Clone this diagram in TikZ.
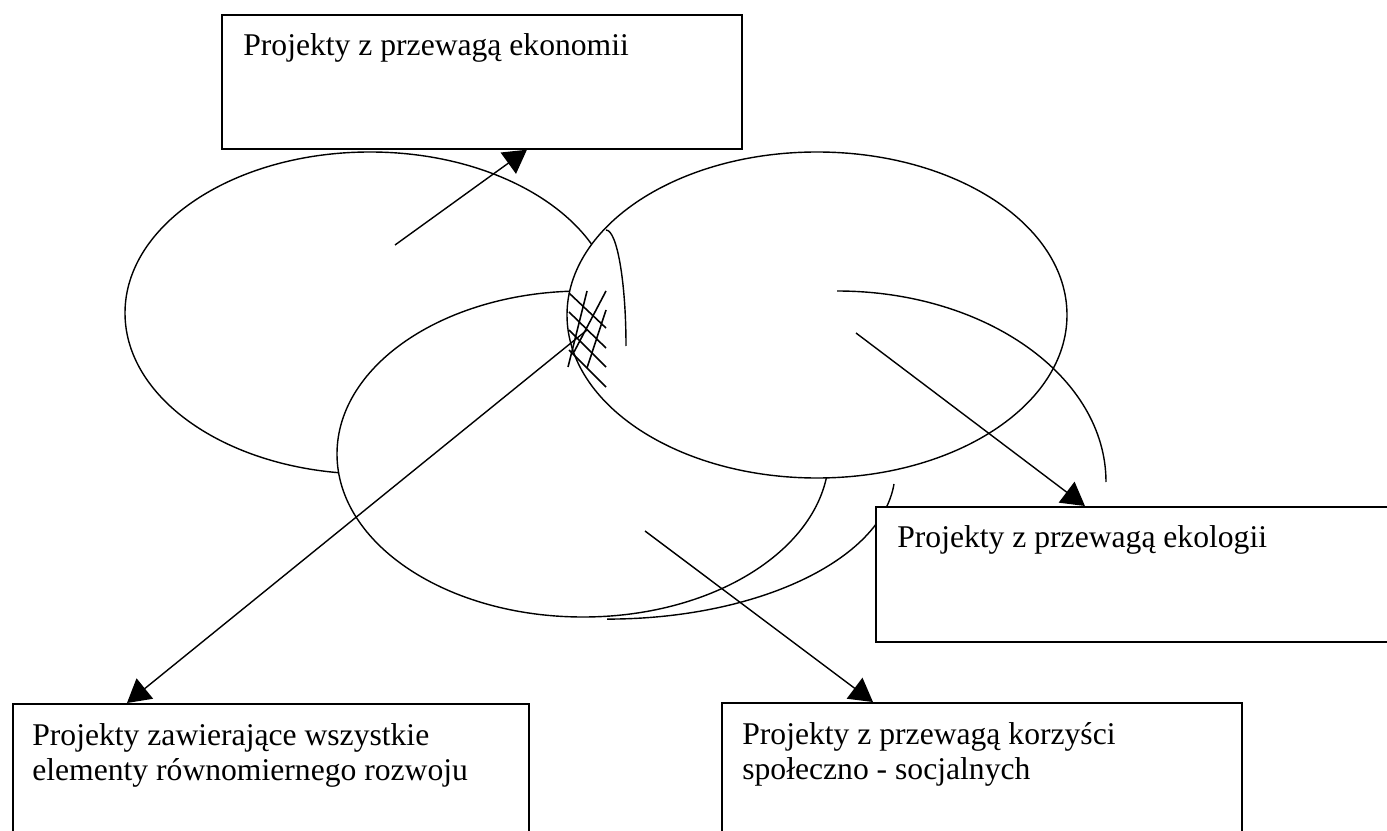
\documentclass[tikz,border=0pt]{standalone}
\usepackage{fontspec}
\setmainfont{Liberation Serif}
\usetikzlibrary{arrows.meta}

\begin{document}
\begin{tikzpicture}[x=0.02cm, y=-0.02cm, font=\fontsize{18}{20}\selectfont]
\tikzstyle{ell}=[draw=black, fill=white, line width=0.8pt]
\tikzstyle{arc1}=[draw=black, line width=0.8pt]
\tikzstyle{hatch}=[draw=black, line width=0.9pt]
\tikzstyle{sq1}=[rectangle, draw=black, fill=white, line width=1pt, anchor=north west, inner sep=0pt]
\tikzstyle{txtonly}=[anchor=north west, inner sep=0pt, align=left]
\tikzstyle{arr}=[line width=0.8pt, -{Triangle[length=0.46cm, width=0.52cm]}]
\useasboundingbox (0,0) rectangle (1387,831);
\clip (0,0) rectangle (1387,831);
\fill[white] (0,0) rectangle (1387,831);

\draw[ell] (370,313) ellipse [x radius=245, y radius=161];
\draw[ell] (583,454) ellipse [x radius=246, y radius=163];
\draw[ell] (817,315) ellipse [x radius=250, y radius=163];

\draw[arc1] (837,291) arc [start angle=-90, end angle=0, x radius=269, y radius=191];
\draw[arc1] (894,484) arc [start angle=5, end angle=90, x radius=288, y radius=148];
\draw[arc1] (606,230) arc [start angle=-90, end angle=0, x radius=20, y radius=116];

\draw[hatch] (569,293) -- (606,328);
\draw[hatch] (569,312) -- (606,348);
\draw[hatch] (569,330) -- (606,367);
\draw[hatch] (569,350) -- (606,387);
\draw[hatch] (587,291) -- (568,367);
\draw[hatch] (606,291) -- (574,352);
\draw[hatch] (606,310) -- (587,368);

\node (ekon) [sq1, minimum width=10.4cm, minimum height=2.68cm] at (221,14) {};
\node (ekol) [sq1, minimum width=11.2cm, minimum height=2.7cm] at (875,506) {};
\node (all) [sq1, minimum width=10.32cm, minimum height=3.6cm] at (12,703) {};
\node (soc) [sq1, minimum width=10.4cm, minimum height=3.6cm] at (721,702) {};

\node (ekontxt) [txtonly] at ([shift={(0.44cm,-0.39cm)}]ekon.north west) {Projekty z przewagą ekonomii};
\node (ekoltxt) [txtonly] at ([shift={(0.44cm,-0.39cm)}]ekol.north west) {Projekty z przewagą ekologii};
\node (alltxt) [txtonly] at ([shift={(0.4cm,-0.41cm)}]all.north west) {Projekty zawierające wszystkie\\elementy równomiernego rozwoju};
\node (soctxt) [txtonly] at ([shift={(0.42cm,-0.41cm)}]soc.north west) {Projekty z przewagą korzyści\\społeczno - socjalnych};

\coordinate (s1) at (395,245);
\coordinate (s2) at (856,333);
\coordinate (s3) at (587,330);
\coordinate (s4) at (645,531);
\draw[arr] (s1) -- ([xshift=6.12cm]ekon.south west);
\draw[arr] (s2) -- ([xshift=4.2cm]ekol.north west);
\draw[arr] (s3) -- ([xshift=2.3cm]all.north west);
\draw[arr] (s4) -- ([xshift=3.04cm]soc.north west);
\end{tikzpicture}
\end{document}
